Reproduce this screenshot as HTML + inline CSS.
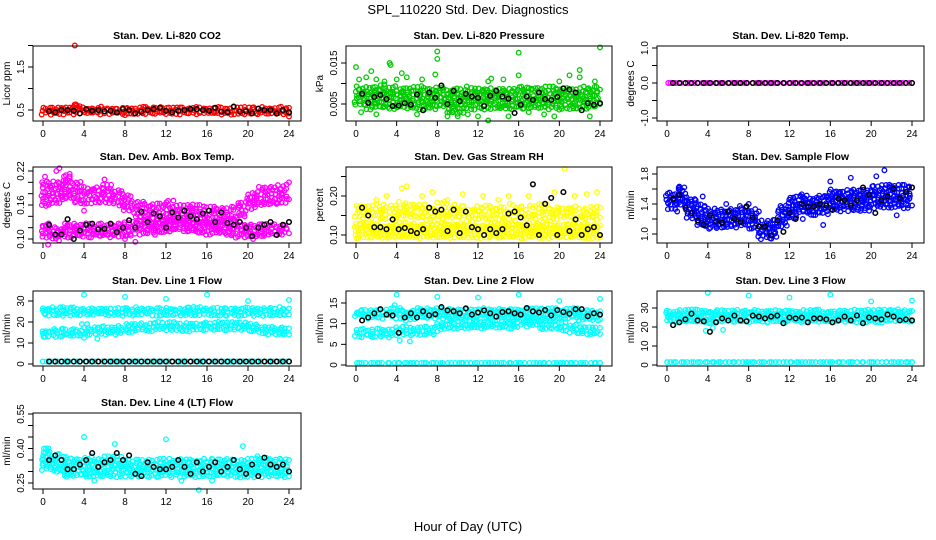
<!DOCTYPE html>
<html><head><meta charset="utf-8"><style>
body{margin:0;background:#fff;}
svg{display:block;font-family:"Liberation Sans",sans-serif;}
</style></head><body>
<svg id="chart" width="936" height="540" viewBox="0 0 936 540">
<text x="468" y="14" text-anchor="middle" font-size="13">SPL_110220  Std. Dev. Diagnostics</text>
<text x="468" y="531" text-anchor="middle" font-size="13">Hour of Day (UTC)</text>
</svg>
<script>
const hours = [0,1,2,3,4,5,6,7,8,9,10,11,12,13,14,15,16,17,18,19,20,21,22,23,24];
const blackHours = [0.6,1.2,1.8,2.4,3,3.6,4.2,4.8,5.4,6,6.6,7.2,7.8,8.4,9,9.6,10.2,10.8,11.4,12,12.6,13.2,13.8,14.4,15,15.6,16.2,16.8,17.4,18,18.6,19.2,19.8,20.4,21,21.6,22.2,22.8,23.4,24];
const xTicks = [0,4,8,12,16,20,24];

// CO2
const co2Lo = [0.42,0.42,0.42,0.42,0.42,0.42,0.42,0.42,0.42,0.42,0.42,0.42,0.42,0.42,0.42,0.42,0.42,0.42,0.42,0.42,0.42,0.42,0.42,0.42,0.42];
const co2Hi = [0.55,0.55,0.56,0.6,0.55,0.55,0.55,0.55,0.55,0.55,0.55,0.55,0.55,0.55,0.55,0.55,0.55,0.55,0.55,0.55,0.55,0.55,0.55,0.55,0.55];
const co2Black = [0.47,0.45,0.5,0.5,0.48,0.42,0.52,0.48,0.5,0.47,0.48,0.44,0.52,0.5,0.42,0.46,0.5,0.52,0.55,0.48,0.45,0.48,0.5,0.52,0.52,0.5,0.48,0.55,0.46,0.45,0.58,0.46,0.47,0.42,0.53,0.5,0.5,0.42,0.5,0.45];
const co2OutT = [3.1,3.2,8,24];
const co2OutV = [2.0,0.63,0.38,0.35];
// Pressure
const presLo = [0.005,0.004,0.004,0.004,0.004,0.004,0.004,0.004,0.0045,0.003,0.003,0.004,0.004,0.004,0.004,0.004,0.004,0.004,0.004,0.004,0.004,0.004,0.004,0.0045,0.005];
const presHi = [0.009,0.009,0.0095,0.009,0.009,0.009,0.009,0.0085,0.009,0.0085,0.0085,0.009,0.0085,0.0085,0.0085,0.0085,0.009,0.009,0.009,0.009,0.0085,0.0085,0.009,0.009,0.0085];
const presBlack = [0.0075,0.0053,0.0067,0.0072,0.0062,0.0045,0.0046,0.0052,0.0048,0.0073,0.0035,0.0078,0.0065,0.0095,0.005,0.0082,0.0057,0.0075,0.0068,0.0065,0.0045,0.007,0.0082,0.0068,0.0063,0.0028,0.0048,0.0068,0.006,0.0078,0.0062,0.006,0.0067,0.0088,0.0085,0.0078,0.0035,0.0052,0.0048,0.0052];
const presOutT = [0,0.3,1,1.5,2,3.3,3.4,4,4.5,5,6.5,7.8,8,8,9,9.5,10,13,13.3,14.5,16,16,19.5,20,21,22,22,23,23.5,24,0.5,2,12,13,15,2.8,6,11,17,18.5];
const presOutV = [0.014,0.011,0.0115,0.013,0.011,0.015,0.0145,0.011,0.0125,0.0115,0.011,0.0122,0.0178,0.016,0.002,0.003,0.002,0.0105,0.0112,0.011,0.0175,0.012,0.002,0.0105,0.012,0.0133,0.0115,0.002,0.0105,0.0188,0.003,0.0025,0.002,0.001,0.002,0.0105,0.0025,0.0025,0.003,0.0025];
// Temp
const tempLo = [0,0,0,0,0,0,0,0,0,0,0,0,0,0,0,0,0,0,0,0,0,0,0,0,0];
const tempHi = [0,0,0,0,0,0,0,0,0,0,0,0,0,0,0,0,0,0,0,0,0,0,0,0,0];
const tempBlack = [0,0,0,0,0,0,0,0,0,0,0,0,0,0,0,0,0,0,0,0,0,0,0,0,0,0,0,0,0,0,0,0,0,0,0,0,0,0,0,0];
// Amb box temp
const ambALo = [0.16,0.165,0.17,0.165,0.165,0.165,0.165,0.16,0.15,0.14,0.13,0.13,0.13,0.13,0.13,0.13,0.13,0.13,0.13,0.14,0.155,0.16,0.16,0.165,0.17];
const ambAHi = [0.2,0.2,0.21,0.2,0.19,0.19,0.195,0.185,0.175,0.165,0.16,0.16,0.165,0.16,0.16,0.16,0.155,0.155,0.155,0.165,0.18,0.19,0.19,0.195,0.2];
const ambBLo = [0.105,0.1,0.105,0.105,0.105,0.105,0.105,0.105,0.105,0.11,0.11,0.11,0.115,0.115,0.115,0.11,0.11,0.11,0.105,0.105,0.105,0.105,0.11,0.11,0.11];
const ambBHi = [0.125,0.12,0.125,0.125,0.125,0.125,0.125,0.125,0.13,0.13,0.13,0.13,0.135,0.135,0.135,0.13,0.13,0.13,0.13,0.125,0.125,0.125,0.125,0.125,0.13];
const ambBlack = [0.125,0.108,0.108,0.135,0.1,0.115,0.125,0.127,0.117,0.118,0.127,0.112,0.12,0.133,0.12,0.148,0.13,0.145,0.14,0.12,0.147,0.138,0.15,0.14,0.135,0.145,0.15,0.13,0.147,0.128,0.125,0.13,0.12,0.105,0.12,0.125,0.13,0.107,0.125,0.13];
const ambOutT = [0.2,1.3,1.6,2.6,6,8,20.5,0.5,4,9];
const ambOutV = [0.21,0.22,0.225,0.215,0.205,0.1,0.1,0.09,0.15,0.095];
// Gas RH
const rhLo = [0.095,0.095,0.095,0.095,0.095,0.095,0.095,0.095,0.095,0.095,0.095,0.095,0.095,0.095,0.095,0.095,0.095,0.095,0.095,0.095,0.095,0.095,0.095,0.095,0.095];
const rhHi = [0.13,0.13,0.125,0.125,0.13,0.13,0.125,0.125,0.13,0.13,0.13,0.125,0.125,0.13,0.13,0.125,0.125,0.13,0.13,0.125,0.125,0.13,0.13,0.125,0.125];
const rhULo = [0.145,0.145,0.145,0.14,0.145,0.145,0.145,0.14,0.145,0.145,0.145,0.14,0.145,0.145,0.145,0.14,0.145,0.145,0.145,0.14,0.145,0.145,0.145,0.14,0.145];
const rhUHi = [0.17,0.17,0.175,0.17,0.18,0.18,0.175,0.17,0.18,0.175,0.17,0.17,0.175,0.17,0.17,0.175,0.17,0.17,0.175,0.17,0.17,0.17,0.165,0.17,0.17];
const rhBlack = [0.17,0.15,0.12,0.12,0.115,0.14,0.115,0.118,0.11,0.105,0.115,0.17,0.16,0.165,0.11,0.165,0.105,0.16,0.12,0.115,0.10,0.115,0.105,0.115,0.155,0.16,0.145,0.125,0.23,0.10,0.18,0.195,0.10,0.21,0.11,0.14,0.10,0.115,0.12,0.10];
const rhOutT = [0.3,3,4.5,5,7.5,10.5,12.5,15,17,19.5,20.5,21.5,22.7,23.7,2,6.5,9,14];
const rhOutV = [0.17,0.2,0.22,0.225,0.21,0.205,0.2,0.2,0.2,0.21,0.27,0.2,0.205,0.21,0.19,0.2,0.19,0.19];
// Sample flow
const flowLo = [1.35,1.38,1.22,1.12,1.08,1.08,1.1,1.12,1.08,0.95,0.95,1.12,1.22,1.28,1.25,1.28,1.32,1.32,1.32,1.32,1.36,1.36,1.36,1.36,1.38];
const flowHi = [1.55,1.62,1.48,1.38,1.32,1.32,1.32,1.36,1.32,1.16,1.18,1.36,1.48,1.52,1.48,1.52,1.58,1.58,1.58,1.58,1.64,1.64,1.64,1.64,1.62];
const flowBlack = [1.47,1.52,1.35,1.28,1.18,1.12,1.25,1.17,1.15,1.3,1.2,1.16,1.37,1.22,1.1,1.1,0.98,1.18,1.03,1.28,1.2,1.4,1.36,1.37,1.4,1.38,1.32,1.47,1.45,1.38,1.45,1.62,1.52,1.28,1.45,1.5,1.6,1.48,1.56,1.62];
const flowOutT = [3.5,5.8,8,9,16,18,20.5,21.3,1,13.3,15.3,22.5];
const flowOutV = [1.5,1.4,1.4,1.3,1.7,1.75,1.77,1.85,1.3,1.2,1.12,1.25];
// Line 1
const l1ALo = [23.5,23.5,23.5,23.5,23.5,23.5,23.5,23.5,23.5,23.5,23.5,23.5,23.5,23.5,23.5,23.5,23.5,23.5,23.5,23.5,23.5,23.5,23.5,23.5,23.5];
const l1AHi = [26.5,26.5,27,26.5,26.5,26.5,26.5,26.5,26.5,26.5,26.5,26.5,26.5,26.5,27,26.5,26.5,26.5,26.5,26.5,26.5,26.5,26.5,26.5,26.5];
const l1BLo = [13,13.5,13.5,13.5,14,14.5,14.5,14.5,15.5,16,16,16.5,16.5,16,16,16.5,16.5,16.5,16.5,16.5,16,15,14.5,14,14];
const l1BHi = [16,16.5,16.5,16.5,17,17.5,17.5,17.5,18.5,19,19,19.5,19.5,19,19,19.5,19.5,19.5,19.5,19.5,19,18,17.5,17,17];
const l1CLo = [1.2,1.2,1.2,1.2,1.2,1.2,1.2,1.2,1.2,1.2,1.2,1.2,1.2,1.2,1.2,1.2,1.2,1.2,1.2,1.2,1.2,1.2,1.2,1.2,1.2];
const l1Black = [1.2,1.2,1.2,1.2,1.2,1.2,1.2,1.2,1.2,1.2,1.2,1.2,1.2,1.2,1.2,1.2,1.2,1.2,1.2,1.2,1.2,1.2,1.2,1.2,1.2,1.2,1.2,1.2,1.2,1.2,1.2,1.2,1.2,1.2,1.2,1.2,1.2,1.2,1.2,1.2];
const l1OutT = [4,8,12,16,20,24,4,5.3,3.8,4.3];
const l1OutV = [33,32,31,33,30,30.5,12.5,12,19,19];
// Line 2
const l2ALo = [12,11.5,11.5,12,11.5,11,11.5,11.5,11.5,11.5,11.5,11.5,11.5,11.5,11.5,11.5,11.5,11.5,11.5,11.5,11.5,11.5,11,11,11];
const l2AHi = [13,13,13,13.5,13.5,13,13.5,13.5,13.5,13.5,13.5,13.5,13.5,13.5,13.5,13.5,13.5,13.5,13.5,13.5,13.5,13.5,13,13,13];
const l2BLo = [7,7,7,7,7.5,7.5,7.5,7.5,8.5,9,9,9,9,9,9,9,9.5,9.5,9,9,8.5,8,7.5,7.5,7.5];
const l2BHi = [8.5,8.5,8.5,8.5,9,9,9,9,10,10.5,10.5,10.5,10.5,10.5,10.5,10.5,11,11,10.5,10.5,10,9.5,9,9,9];
const l2CLo = [0.5,0.5,0.5,0.5,0.5,0.5,0.5,0.5,0.5,0.5,0.5,0.5,0.5,0.5,0.5,0.5,0.5,0.5,0.5,0.5,0.5,0.5,0.5,0.5,0.5];
const l2Black = [10.8,11.5,12.5,13.5,12.2,12.0,7.8,11.5,12.5,11.5,13.0,12.0,12.3,14.0,13.2,13.0,12.5,13.7,12.2,12.7,13.2,12.5,11.7,12.8,13.0,12.5,12.2,13.8,13.0,12.7,13.3,12.0,13.3,12.8,12.4,13.5,13.5,11.8,12.5,12.2];
const l2OutT = [4,8,12,16,20,24,4.3,5.3,3.8];
const l2OutV = [17,16.5,16.3,17,15.5,16,6,5.7,14.5];
// Line 3
const l3ALo = [23,23,23,23,22,23,23,23,23,23,23,23,23,23,23,23,23,23,23,23,23,23,23,23,23];
const l3AHi = [28.5,28.5,29,28.5,28.5,28.5,28.5,28.5,28.5,28.5,29,28.5,28.5,28.5,28.5,28.5,28.5,28.5,28.5,28.5,28.5,28.5,29,28.5,28.5];
const l3CLo = [1.5,1.5,1.5,1.5,1.5,1.5,1.5,1.5,1.5,1.5,1.5,1.5,1.5,1.5,1.5,1.5,1.5,1.5,1.5,1.5,1.5,1.5,1.5,1.5,1.5];
const l3Black = [21,22.5,24,27,23.5,23,17.5,22.5,24.5,23.5,26,23.5,23,26,25.5,24.5,25.5,26,22,25,24.5,25,22.5,24.5,24.5,24,22.5,23.5,25.5,23.5,26,22,25,24.5,24,26.5,25.5,23.5,24,23.5];
const l3OutT = [4,8,12,16,20,24,3.8,5.5,4.5];
const l3OutV = [38,36.5,35.5,37,33.5,34,18,18.5,19.5];
// Line 4
const l4Lo = [0.31,0.30,0.28,0.28,0.28,0.28,0.28,0.28,0.28,0.28,0.28,0.28,0.28,0.28,0.28,0.28,0.28,0.28,0.28,0.28,0.28,0.28,0.28,0.28,0.28];
const l4Hi = [0.40,0.37,0.36,0.35,0.36,0.35,0.36,0.36,0.35,0.35,0.35,0.35,0.35,0.35,0.35,0.35,0.35,0.35,0.35,0.35,0.35,0.36,0.35,0.35,0.35];
const l4Black = [0.35,0.37,0.35,0.31,0.31,0.33,0.35,0.38,0.32,0.34,0.35,0.38,0.35,0.37,0.29,0.28,0.34,0.32,0.31,0.31,0.32,0.35,0.32,0.29,0.34,0.30,0.32,0.34,0.30,0.32,0.35,0.31,0.29,0.33,0.28,0.36,0.33,0.32,0.33,0.30];
const l4OutT = [4,7,12,20,15.2,5,13.5,16.5,19.5];
const l4OutV = [0.45,0.42,0.44,0.565,0.22,0.26,0.26,0.26,0.41];

const NS = "http://www.w3.org/2000/svg";
const svg = document.getElementById("chart");
function mk(tag, attrs, parent){
  const e = document.createElementNS(NS, tag);
  for (const k in attrs) e.setAttribute(k, attrs[k]);
  (parent || svg).appendChild(e);
  return e;
}
// deterministic rendering jitter (visual texture only, not data)
let jseed = 0;
function jit(){ jseed++; const s = Math.sin(jseed * 12.9898) * 43758.5453; return (s - Math.floor(s)) - 0.5; }

const cols = [[33,301],[346,612],[657,924]];
const rows = [[46,121],[167,243],[291,366],[413,489]];

function panel(o){
  const [L,R] = cols[o.c], [T,B] = rows[o.r];
  const g = mk("g", {});
  
  
  const xs = t => L + 10 + t / 24 * (R - L - 22);
  const ys = v => o.p1 + (v - o.v1) * (o.p2 - o.p1) / (o.v2 - o.v1);
  const plot = mk("g", {}, g);
  
  
  function dot(t, v, col, jx, jy){
    const y = ys(v) + (jy || 0);
    if (y < T - 2 || y > B + 2) return;
    const sw = col === "#000" ? 1.5 : 1.3;
    const c = mk("circle", {cx: (xs(t) + (jx || 0)).toFixed(1), cy: y.toFixed(1), r: 2.3, fill: "none", stroke: col, "stroke-width": sw}, plot);
    
    
  }
  o.clouds.forEach(cl => {
    const lo = cl[0], hi = cl[1] || cl[0], step = cl[2] || 2.6;
    for (let i = 0; i < hours.length - 1; i++) {
      for (let s = 0; s < 3; s++) {
        const t = hours[i] + s / 3 * (hours[i+1] - hours[i]);
        const a = lo[i], b = hi[i];
        const pa = ys(a), pb = ys(b);
        const n = Math.max(0, Math.round(Math.abs(pa - pb) / step));
        for (let k = 0; k <= n; k++) {
          const jy = n ? jit() * step : 0;
          dot(t, a + (b - a) * (n ? k / n : 0), o.color, jit() * 3, jy);
        }
      }
    }
    dot(24, lo[24], o.color); dot(24, hi[24], o.color);
  });
  o.outT.forEach((t, i) => dot(t, o.outV[i], o.color));
  blackHours.forEach((t, i) => dot(t, o.black[i], "#000"));
  const box = mk("rect", {x: L, y: T, width: R - L, height: B - T, fill: "none", stroke: "#000", "stroke-width": 1}, g);
  
  
  const ti = mk("text", {x: (L + R) / 2, y: T - 7, "text-anchor": "middle", "font-size": 10.5, "font-weight": "bold"}, g);
  ti.textContent = o.title;
  
  
  const xa = mk("g", {}, g);
  
  
  mk("line", {x1: xs(0), x2: xs(24), y1: B, y2: B, stroke: "#000"}, xa);
  xTicks.forEach(t => {
    mk("line", {x1: xs(t), x2: xs(t), y1: B, y2: B + 5, stroke: "#000"}, xa);
    const tx = mk("text", {x: xs(t), y: B + 16, "text-anchor": "middle", "font-size": 10}, xa);
    tx.textContent = t;
    
    
  });
  const ya = mk("g", {}, g);
  
  
  mk("line", {x1: L, x2: L, y1: ys(o.yt[0]), y2: ys(o.yt[o.yt.length - 1]), stroke: "#000"}, ya);
  o.yt.forEach(v => {
    const y = ys(v);
    mk("line", {x1: L - 5, x2: L, y1: y, y2: y, stroke: "#000"}, ya);
  });
  o.yl.forEach((lab, i) => {
    const y = ys(o.ylv[i]);
    const tx = mk("text", {x: 0, y: 0, "text-anchor": "middle", "font-size": 10, transform: `translate(${L - 9},${y}) rotate(-90)`}, ya);
    tx.textContent = lab;
    
    
  });
  const yt = mk("text", {x: 0, y: 0, "text-anchor": "middle", "font-size": 10, transform: `translate(${L - 23},${(T + B) / 2}) rotate(-90)`}, g);
  yt.textContent = o.ylab;
  
  
}

panel({name:"panel-co2", c:0, r:0, title:"Stan. Dev. Li-820 CO2", ylab:"Licor ppm", color:"#ff0000",
  v1:0.5,p1:110,v2:1.5,p2:67, yt:[0.5,1,1.5,2], yl:["0.5","1.5"], ylv:[0.5,1.5],
  clouds:[[co2Lo,co2Hi]], outT:co2OutT, outV:co2OutV, black:co2Black});
panel({name:"panel-pressure", c:1, r:0, title:"Stan. Dev. Li-820 Pressure", ylab:"kPa", color:"#00cc00",
  v1:0.005,p1:104,v2:0.015,p2:63, yt:[0.005,0.01,0.015], yl:["0.005","0.015"], ylv:[0.005,0.015],
  clouds:[[presLo,presHi,3.2]], outT:presOutT, outV:presOutV, black:presBlack});
panel({name:"panel-temp", c:2, r:0, title:"Stan. Dev. Li-820 Temp.", ylab:"degrees C", color:"#ff00ff",
  v1:0,p1:83,v2:1,p2:48, yt:[-1,-0.5,0,0.5,1], yl:["-1.0","0.0","1.0"], ylv:[-1,0,1],
  clouds:[[tempLo,tempHi]], outT:[], outV:[], black:tempBlack});
panel({name:"panel-amb-box-temp", c:0, r:1, title:"Stan. Dev. Amb. Box Temp.", ylab:"degrees C", color:"#ff00ff",
  v1:0.10,p1:239,v2:0.22,p2:171, yt:[0.10,0.12,0.14,0.16,0.18,0.20,0.22], yl:["0.10","0.16","0.22"], ylv:[0.10,0.16,0.22],
  clouds:[[ambALo,ambAHi,3.2],[ambBLo,ambBHi,3.2]], outT:ambOutT, outV:ambOutV, black:ambBlack});
panel({name:"panel-gas-rh", c:1, r:1, title:"Stan. Dev. Gas Stream RH", ylab:"percent", color:"#ffff00",
  v1:0.10,p1:235,v2:0.20,p2:196, yt:[0.10,0.15,0.20,0.25], yl:["0.10","0.20"], ylv:[0.10,0.20],
  clouds:[[rhLo,rhHi,2.8],[rhULo,rhUHi,4.5]], outT:rhOutT, outV:rhOutV, black:rhBlack});
panel({name:"panel-sample-flow", c:2, r:1, title:"Stan. Dev. Sample Flow", ylab:"ml/min", color:"#0000ff",
  v1:1.0,p1:234,v2:1.8,p2:174, yt:[1.0,1.2,1.4,1.6,1.8], yl:["1.0","1.4","1.8"], ylv:[1.0,1.4,1.8],
  clouds:[[flowLo,flowHi,3]], outT:flowOutT, outV:flowOutV, black:flowBlack});
panel({name:"panel-line1-flow", c:0, r:2, title:"Stan. Dev. Line 1 Flow", ylab:"ml/min", color:"#00ffff",
  v1:0,p1:364,v2:30,p2:301, yt:[0,10,20,30], yl:["0","10","20","30"], ylv:[0,10,20,30],
  clouds:[[l1ALo,l1AHi],[l1BLo,l1BHi],[l1CLo,l1CLo]], outT:l1OutT, outV:l1OutV, black:l1Black});
panel({name:"panel-line2-flow", c:1, r:2, title:"Stan. Dev. Line 2 Flow", ylab:"ml/min", color:"#00ffff",
  v1:0,p1:365,v2:15,p2:303, yt:[0,5,10,15], yl:["0","5","10","15"], ylv:[0,5,10,15],
  clouds:[[l2ALo,l2AHi],[l2BLo,l2BHi],[l2CLo,l2CLo]], outT:l2OutT, outV:l2OutV, black:l2Black});
panel({name:"panel-line3-flow", c:2, r:2, title:"Stan. Dev. Line 3 Flow", ylab:"ml/min", color:"#00ffff",
  v1:0,p1:365,v2:30,p2:308, yt:[0,10,20,30], yl:["0","10","20","30"], ylv:[0,10,20,30],
  clouds:[[l3ALo,l3AHi],[l3CLo,l3CLo]], outT:l3OutT, outV:l3OutV, black:l3Black});
panel({name:"panel-line4-flow", c:0, r:3, title:"Stan. Dev. Line 4 (LT) Flow", ylab:"ml/min", color:"#00ffff",
  v1:0.25,p1:483,v2:0.55,p2:414, yt:[0.25,0.30,0.35,0.40,0.45,0.50,0.55], yl:["0.25","0.40","0.55"], ylv:[0.25,0.40,0.55],
  clouds:[[l4Lo,l4Hi,3]], outT:l4OutT, outV:l4OutV, black:l4Black});
</script>
</body></html>
